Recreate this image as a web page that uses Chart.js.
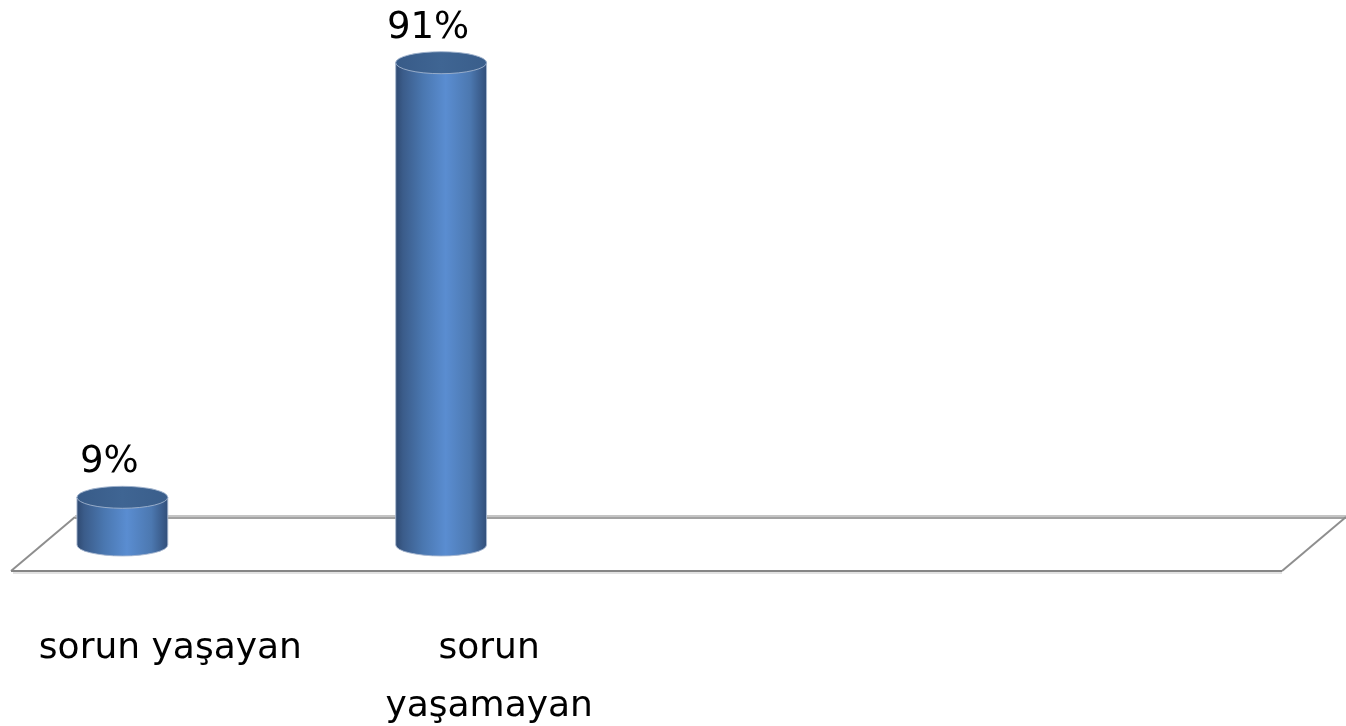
<!DOCTYPE html>
<html>
<head>
<meta charset="utf-8">
<script src="https://cdn.jsdelivr.net/npm/chart.js@4.4.1/dist/chart.umd.min.js"></script>
<style>
  html, body { margin: 0; padding: 0; background: #ffffff; }
  #wrap { width: 1346px; height: 726px; position: relative; }
</style>
</head>
<body>
<div id="wrap"><canvas id="c" width="1346" height="726"></canvas></div>
<script>
// ---- data ----
const categories = ['sorun yaşayan', ['sorun', 'yaşamayan'], '', ''];
const values = [9, 91, null, null];
const valueLabels = ['9%', '91%', '', ''];
const yMin = 0;
const yMax = 100;

const FONT = "'DejaVu Sans', Verdana, sans-serif";
const BAR_SHIFT = -48;   // 3D perspective shift of the cylinders
const DEPTH_DX = 64, DEPTH_DY = -54;

const floorAndCylinders = {
  id: 'floorAndCylinders',
  afterDatasetsDraw(chart) {
    const ctx = chart.ctx;
    const ca = chart.chartArea;
    const y = chart.scales.y;
    const base = y.getPixelForValue(0);
    const frontY = base + 26;
    const backY = frontY + DEPTH_DY;
    const fl = ca.left, fr = ca.right - 4;
    ctx.save();
    // back line
    ctx.lineWidth = 2;
    ctx.strokeStyle = '#c4c4c4';
    ctx.beginPath(); ctx.moveTo(fl + DEPTH_DX, backY - 1); ctx.lineTo(fr + DEPTH_DX, backY - 1); ctx.stroke();
    ctx.strokeStyle = '#a2a2a2';
    ctx.beginPath(); ctx.moveTo(fl + DEPTH_DX, backY + 1); ctx.lineTo(fr + DEPTH_DX, backY + 1); ctx.stroke();
    // diagonals
    ctx.strokeStyle = '#8e8e8e';
    ctx.lineWidth = 2;
    ctx.beginPath(); ctx.moveTo(fl, frontY); ctx.lineTo(fl + DEPTH_DX, backY); ctx.stroke();
    ctx.beginPath(); ctx.moveTo(fr, frontY); ctx.lineTo(fr + DEPTH_DX, backY); ctx.stroke();
    // front line
    ctx.strokeStyle = '#858585';
    ctx.beginPath(); ctx.moveTo(fl, frontY); ctx.lineTo(fr, frontY); ctx.stroke();
    ctx.strokeStyle = '#e2e2e2';
    ctx.beginPath(); ctx.moveTo(fl + 2, frontY + 2); ctx.lineTo(fr, frontY + 2); ctx.stroke();

    // cylinders
    const meta = chart.getDatasetMeta(0);
    meta.data.forEach((el, i) => {
      if (values[i] === null || values[i] === undefined) return;
      const p = el.getProps(['x', 'y', 'base', 'width'], true);
      const cx = p.x + BAR_SHIFT;
      const w = p.width;
      const rx = w / 2, ry = 11;
      const topY = p.y, botY = p.base;
      const left = cx - rx, right = cx + rx;
      const g = ctx.createLinearGradient(left, 0, right, 0);
      g.addColorStop(0, '#2f4a72');
      g.addColorStop(0.08, '#3b5c8a');
      g.addColorStop(0.3, '#4a77b0');
      g.addColorStop(0.55, '#5a8dd1');
      g.addColorStop(0.82, '#4c78b0');
      g.addColorStop(1, '#324f7a');
      // body
      ctx.beginPath();
      ctx.moveTo(left, topY);
      ctx.lineTo(left, botY);
      ctx.ellipse(cx, botY, rx, ry, 0, Math.PI, 0, true);
      ctx.lineTo(right, topY);
      ctx.closePath();
      ctx.fillStyle = g;
      ctx.fill();
      ctx.lineWidth = 1;
      ctx.strokeStyle = 'rgba(170,185,210,0.9)';
      ctx.stroke();
      // top
      ctx.beginPath();
      ctx.ellipse(cx, topY, rx, ry, 0, 0, Math.PI * 2);
      const tg = ctx.createLinearGradient(left, 0, right, 0);
      tg.addColorStop(0, '#385b88');
      tg.addColorStop(0.5, '#3f6593');
      tg.addColorStop(1, '#3a5e8b');
      ctx.fillStyle = tg;
      ctx.fill();
      ctx.strokeStyle = 'rgba(160,178,205,0.9)';
      ctx.stroke();
      // value label
      ctx.fillStyle = '#000000';
      ctx.font = '37px ' + FONT;
      ctx.textAlign = 'center';
      ctx.textBaseline = 'alphabetic';
      ctx.fillText(valueLabels[i], cx - 13, topY - ry - 14);
    });
    ctx.restore();
  }
};

new Chart(document.getElementById('c'), {
  type: 'bar',
  data: {
    labels: categories,
    datasets: [{
      data: values,
      backgroundColor: 'rgba(0,0,0,0)',
      borderWidth: 0,
      categoryPercentage: 1,
      barPercentage: 0.285
    }]
  },
  options: {
    responsive: false,
    animation: false,
    layout: { padding: { left: 11, right: 60, top: 15, bottom: 0 } },
    plugins: { legend: { display: false }, tooltip: { enabled: false } },
    scales: {
      x: {
        grid: { display: false, drawTicks: false },
        border: { display: false },
        afterFit(scale) {
          scale.height = 181;
          scale.paddingLeft = 0;
          scale.paddingRight = 0;
        },
        ticks: {
          autoSkip: false,
          maxRotation: 0,
          minRotation: 0,
          padding: 75,
          color: '#000000',
          font: { family: FONT, size: 36, lineHeight: 1.6 }
        }
      },
      y: {
        display: false,
        min: yMin,
        max: yMax
      }
    }
  },
  plugins: [floorAndCylinders]
});
</script>
</body>
</html>
